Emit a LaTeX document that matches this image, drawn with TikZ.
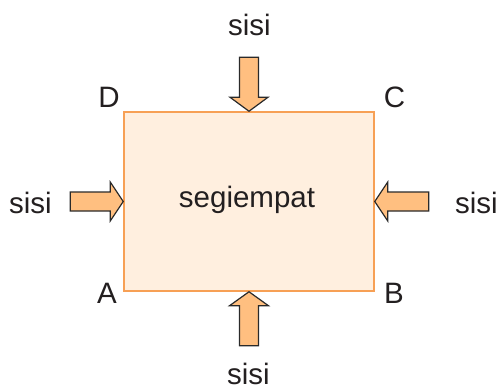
\documentclass[tikz,border=0pt]{standalone}
\usepackage{fontspec}
\setmainfont{Liberation Sans}
\definecolor{rectfill}{HTML}{FFEFDF}
\definecolor{rectline}{HTML}{F7A055}
\definecolor{arrowfill}{HTML}{FFBF80}
\definecolor{arrowline}{HTML}{2A2A2A}
\definecolor{txt}{HTML}{231F20}
\begin{document}
\begin{tikzpicture}[x=1pt,y=-1pt,
  rectbox/.style={draw=rectline, fill=rectfill, line width=1.5pt, minimum width=250pt, minimum height=179pt, inner sep=0pt},
  blockarrow/.style={draw=arrowline, fill=arrowfill, line width=1.2pt, line join=miter},
  lbl/.style={anchor=base, inner sep=0pt, text=txt, font=\fontsize{29.5}{34}\selectfont}]
\useasboundingbox (0,0) rectangle (499,389);
\node[rectbox] (rect) at (249,201.5) {};
\node[lbl] (title) at (247,207) {segiempat};
% arrows
\draw[blockarrow] (rect.north) -- ++(-19,-14) -- ++(9.5,0) -- ++(0,-40) -- ++(19,0) -- ++(0,40) -- ++(9.5,0) -- cycle;
\draw[blockarrow] (rect.south) -- ++(-19.5,14) -- ++(10,0) -- ++(0,40) -- ++(19,0) -- ++(0,-40) -- ++(10,0) -- cycle;
\draw[blockarrow] (rect.west) -- ++(-13,-19.5) -- ++(0,10) -- ++(-40,0) -- ++(0,19) -- ++(40,0) -- ++(0,10) -- cycle;
\draw[blockarrow] (rect.east) -- ++(13,-19.5) -- ++(0,10) -- ++(41,0) -- ++(0,19) -- ++(-41,0) -- ++(0,10) -- cycle;
% labels
\node[lbl] (stop) at (249.5,35) {sisi};
\node[lbl] (sbot) at (248.5,384.5) {sisi};
\node[lbl] (sleft) at (30.5,213) {sisi};
\node[lbl] (sright) at (476.5,213) {sisi};
\node[lbl] (D) at (109,107) {D};
\node[lbl] (C) at (394.5,107) {C};
\node[lbl] (A) at (107,303) {A};
\node[lbl] (B) at (394,303) {B};
\end{tikzpicture}
\end{document}
